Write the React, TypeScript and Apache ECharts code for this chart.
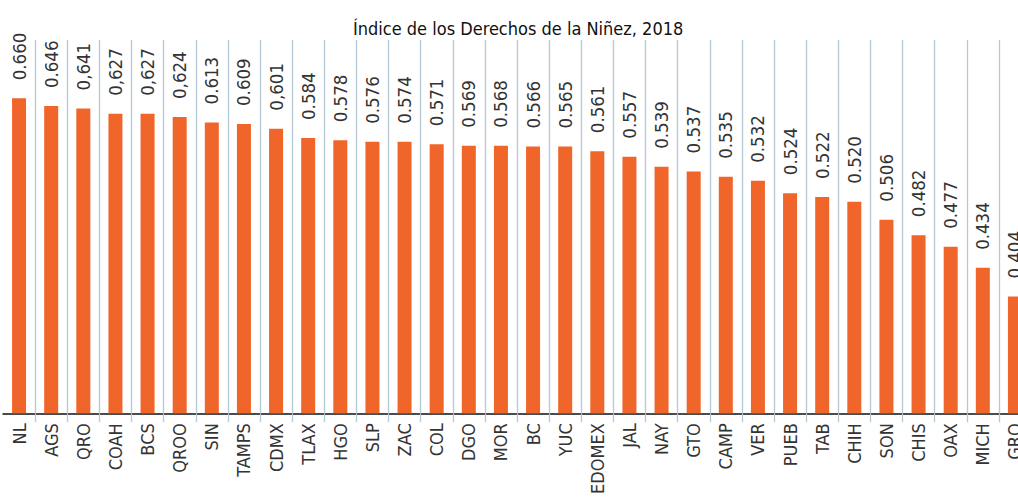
import React, { useEffect, useRef } from "react";
import * as echarts from "echarts";

const categories = [
  "NL", "AGS", "QRO", "COAH", "BCS", "QROO", "SIN", "TAMPS", "CDMX", "TLAX",
  "HGO", "SLP", "ZAC", "COL", "DGO", "MOR", "BC", "YUC", "EDOMEX", "JAL",
  "NAY", "GTO", "CAMP", "VER", "PUEB", "TAB", "CHIH", "SON", "CHIS", "OAX",
  "MICH", "GRO",
];

// Bar heights
const barValues = [
  0.655, 0.645, 0.642, 0.635, 0.635, 0.631, 0.624, 0.622, 0.616, 0.604,
  0.601, 0.599, 0.599, 0.596, 0.594, 0.594, 0.593, 0.593, 0.587, 0.58,
  0.567, 0.561, 0.554, 0.549, 0.533, 0.528, 0.522, 0.499, 0.479, 0.464,
  0.437, 0.4,
];

// Value labels as printed on the chart
const valueLabels = [
  "0.660", "0.646", "0,641", "0,627", "0,627", "0,624", "0.613", "0.609", "0,601", "0.584",
  "0.578", "0.576", "0.574", "0.571", "0.569", "0.568", "0.566", "0.565", "0.561", "0.557",
  "0.539", "0.537", "0.535", "0.532", "0.524", "0.522", "0.520", "0.506", "0.482", "0.477",
  "0.434", "0.404",
];

const titleText = "Índice de los Derechos de la Niñez, 2018";

const FONT = "'Liberation Sans Narrow', 'DejaVu Sans Condensed', 'Roboto', sans-serif";

export default function App() {
  const ref = useRef<HTMLDivElement>(null);
  useEffect(() => {
    if (!ref.current) return;
    const chart = echarts.init(ref.current, undefined, { renderer: "svg" });
    chart.setOption({
      animation: false,
      backgroundColor: "#ffffff",
      title: {
        text: titleText,
        left: 348,
        top: 14,
        textStyle: { fontFamily: FONT, fontSize: 18, fontWeight: "normal", color: "#111111" },
      },
      grid: { left: 3, right: 3, top: 40, bottom: 69, containLabel: false },
      xAxis: {
        type: "category",
        data: categories,
        boundaryGap: true,
        axisLine: { show: true, lineStyle: { color: "#111111", width: 1.5 } },
        axisTick: {
          show: true,
          length: 9,
          interval: (i: number) => i > 0,
          lineStyle: { color: "#b5c9d6", width: 1.3 },
        },
        splitLine: {
          show: true,
          interval: (i: number) => i > 0,
          lineStyle: { color: "#b5c9d6", width: 1.3 },
        },
        axisLabel: {
          interval: 0,
          rotate: 90,
          margin: 10,
          fontFamily: FONT,
          fontSize: 18,
          color: "#333333",
        },
      },
      yAxis: {
        type: "value",
        min: 0.25,
        max: 0.73,
        show: false,
        splitLine: { show: false },
      },
      series: [
        {
          type: "bar",
          data: barValues,
          barWidth: 14,
          itemStyle: { color: "#f0652a" },
          label: {
            show: true,
            position: "top",
            rotate: 90,
            align: "left",
            verticalAlign: "middle",
            distance: 18,
            fontFamily: FONT,
            fontSize: 18.5,
            color: "#333333",
            formatter: (p: any) => valueLabels[p.dataIndex],
          },
        },
      ],
    });
    return () => chart.dispose();
  }, []);
  return (
    <div style={{ position: "fixed", left: 0, top: 0, width: 1018, height: 497, overflow: "hidden", background: "#fff" }}>
      <div ref={ref} style={{ width: 1034, height: 497 }} />
    </div>
  );
}
